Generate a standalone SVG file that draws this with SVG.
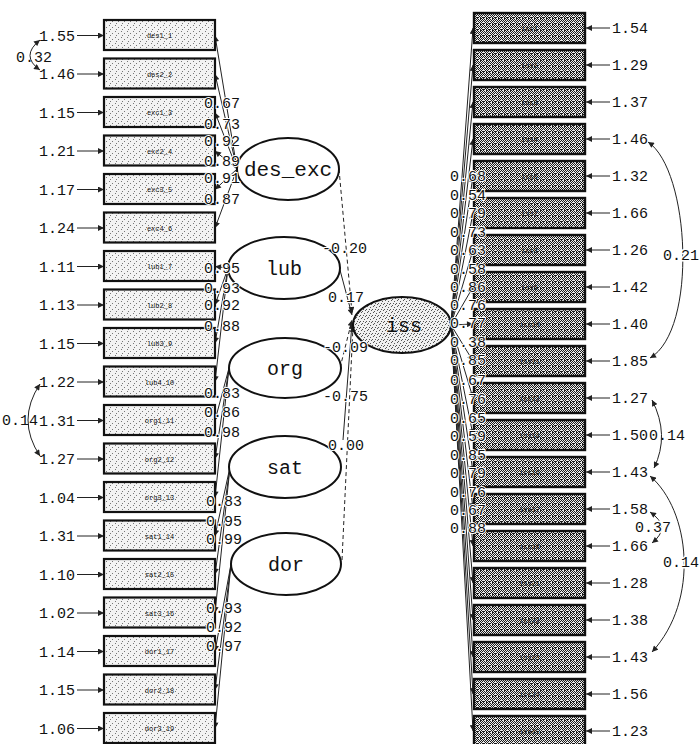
<svg xmlns="http://www.w3.org/2000/svg" width="700" height="744" viewBox="0 0 700 744">
<style>
.num{font-family:"Liberation Mono","DejaVu Sans Mono",monospace;font-size:15px;fill:#111}
.lab{font-family:"Liberation Mono","DejaVu Sans Mono",monospace;font-size:20px;fill:#111;text-anchor:middle}
.sm{font-family:"Liberation Mono","DejaVu Sans Mono",monospace;font-size:7px;fill:#111;text-anchor:middle}
.bl{fill:url(#light);stroke:#111;stroke-width:2.2}
.br{fill:url(#dark);stroke:#111;stroke-width:2.4}
.lv{fill:#fff;stroke:#111;stroke-width:2}
.ar{fill:none;stroke:#222;stroke-width:1;marker-end:url(#ah)}
.cv{fill:none;stroke:#222;stroke-width:1;marker-start:url(#ah2);marker-end:url(#ah)}
.ds{stroke-dasharray:4 3}
.halo{paint-order:stroke;stroke:#fff;stroke-width:3px}
.halo2{paint-order:stroke;stroke:#fff;stroke-width:2px}
</style>
<defs>
<pattern id="light" width="6" height="6" patternUnits="userSpaceOnUse">
<rect width="6" height="6" fill="#f3f3f3"/>
<path d="M1 1h1v1h-1zM4 3h1v1h-1zM2 5h1v1h-1z" fill="#777"/>
</pattern>
<pattern id="dark" width="6" height="6" patternUnits="userSpaceOnUse">
<rect width="6" height="6" fill="#ececec"/>
<path d="M0 0h2v1h-2zM3 0h1v1h-1zM0 1h1v1h-1zM2 1h1v1h-1zM4 1h1v1h-1zM1 2h1v1h-1zM3 2h1v1h-1zM5 2h1v1h-1zM0 3h1v1h-1zM2 3h1v1h-1zM4 3h1v1h-1zM1 4h1v1h-1zM5 4h1v1h-1zM0 5h1v1h-1zM2 5h1v1h-1zM3 5h2v1h-2z" fill="#1a1a1a"/>
</pattern>
<pattern id="mid" width="6" height="6" patternUnits="userSpaceOnUse">
<rect width="6" height="6" fill="#f0f0f0"/>
<path d="M1 0h1v1h-1zM4 1h1v1h-1zM0 3h1v1h-1zM3 3h1v1h-1zM5 4h1v1h-1zM2 5h1v1h-1z" fill="#555"/>
</pattern>
<marker id="ah" viewBox="0 0 10 10" refX="10" refY="5" markerWidth="7" markerHeight="6" orient="auto" markerUnits="userSpaceOnUse">
<path d="M0 0L10 5L0 10z" fill="#222"/>
</marker>
<marker id="ah2" viewBox="0 0 10 10" refX="0" refY="5" markerWidth="7" markerHeight="6" orient="auto" markerUnits="userSpaceOnUse">
<path d="M10 0L0 5L10 10z" fill="#222"/>
</marker>
</defs>

<g id="connectors">
<line class="ar" x1="237" y1="169" x2="215" y2="35.5"/>
<line class="ar" x1="237" y1="169" x2="215" y2="74"/>
<line class="ar" x1="237" y1="169" x2="215" y2="112.5"/>
<line class="ar" x1="237" y1="169" x2="215" y2="151"/>
<line class="ar" x1="237" y1="169" x2="215" y2="189.5"/>
<line class="ar" x1="237" y1="169" x2="215" y2="228"/>
<line class="ar" x1="228" y1="268" x2="215" y2="266.5"/>
<line class="ar" x1="228" y1="268" x2="215" y2="305"/>
<line class="ar" x1="228" y1="268" x2="215" y2="343.5"/>
<line class="ar" x1="228" y1="268" x2="215" y2="382"/>
<line class="ar" x1="229" y1="368" x2="215" y2="420.5"/>
<line class="ar" x1="229" y1="368" x2="215" y2="459"/>
<line class="ar" x1="229" y1="368" x2="215" y2="497.5"/>
<line class="ar" x1="230" y1="467" x2="215" y2="536"/>
<line class="ar" x1="230" y1="467" x2="215" y2="574.5"/>
<line class="ar" x1="230" y1="467" x2="215" y2="613"/>
<line class="ar" x1="231" y1="564" x2="215" y2="651.5"/>
<line class="ar" x1="231" y1="564" x2="215" y2="690"/>
<line class="ar" x1="231" y1="564" x2="215" y2="728.5"/>
<line class="ar ds" x1="339" y1="169" x2="352" y2="313"/>
<line class="ar" x1="340" y1="270" x2="352" y2="315"/>
<line class="ar ds" x1="340" y1="368" x2="352" y2="320"/>
<line class="ar" x1="343" y1="440" x2="352" y2="323"/>
<line class="ar ds" x1="342" y1="560" x2="353" y2="326"/>
<line class="ar" x1="451" y1="325" x2="473" y2="28"/>
<line class="ar" x1="451" y1="325" x2="473" y2="65"/>
<line class="ar" x1="451" y1="325" x2="473" y2="102"/>
<line class="ar" x1="451" y1="325" x2="473" y2="139"/>
<line class="ar" x1="451" y1="325" x2="473" y2="176"/>
<line class="ar" x1="451" y1="325" x2="473" y2="213"/>
<line class="ar" x1="451" y1="325" x2="473" y2="250"/>
<line class="ar" x1="451" y1="325" x2="473" y2="287"/>
<line class="ar" x1="451" y1="325" x2="473" y2="324"/>
<line class="ar" x1="451" y1="325" x2="473" y2="361"/>
<line class="ar" x1="451" y1="325" x2="473" y2="398"/>
<line class="ar" x1="451" y1="325" x2="473" y2="435"/>
<line class="ar" x1="451" y1="325" x2="473" y2="472"/>
<line class="ar" x1="451" y1="325" x2="473" y2="509"/>
<line class="ar" x1="451" y1="325" x2="473" y2="546"/>
<line class="ar" x1="451" y1="325" x2="473" y2="583"/>
<line class="ar" x1="451" y1="325" x2="473" y2="620"/>
<line class="ar" x1="451" y1="325" x2="473" y2="657"/>
<line class="ar" x1="451" y1="325" x2="473" y2="694"/>
<line class="ar" x1="451" y1="325" x2="473" y2="731"/>
<g>
<line class="ar" x1="77" y1="35.5" x2="104" y2="35.5"/>
<line class="ar" x1="77" y1="74" x2="104" y2="74"/>
<line class="ar" x1="77" y1="112.5" x2="104" y2="112.5"/>
<line class="ar" x1="77" y1="151" x2="104" y2="151"/>
<line class="ar" x1="77" y1="189.5" x2="104" y2="189.5"/>
<line class="ar" x1="77" y1="228" x2="104" y2="228"/>
<line class="ar" x1="77" y1="266.5" x2="104" y2="266.5"/>
<line class="ar" x1="77" y1="305" x2="104" y2="305"/>
<line class="ar" x1="77" y1="343.5" x2="104" y2="343.5"/>
<line class="ar" x1="77" y1="382" x2="104" y2="382"/>
<line class="ar" x1="77" y1="420.5" x2="104" y2="420.5"/>
<line class="ar" x1="77" y1="459" x2="104" y2="459"/>
<line class="ar" x1="77" y1="497.5" x2="104" y2="497.5"/>
<line class="ar" x1="77" y1="536" x2="104" y2="536"/>
<line class="ar" x1="77" y1="574.5" x2="104" y2="574.5"/>
<line class="ar" x1="77" y1="613" x2="104" y2="613"/>
<line class="ar" x1="77" y1="651.5" x2="104" y2="651.5"/>
<line class="ar" x1="77" y1="690" x2="104" y2="690"/>
<line class="ar" x1="77" y1="728.5" x2="104" y2="728.5"/>
</g>
<g>
<line class="ar" x1="610" y1="28" x2="586" y2="28"/>
<line class="ar" x1="610" y1="65" x2="586" y2="65"/>
<line class="ar" x1="610" y1="102" x2="586" y2="102"/>
<line class="ar" x1="610" y1="139" x2="586" y2="139"/>
<line class="ar" x1="610" y1="176" x2="586" y2="176"/>
<line class="ar" x1="610" y1="213" x2="586" y2="213"/>
<line class="ar" x1="610" y1="250" x2="586" y2="250"/>
<line class="ar" x1="610" y1="287" x2="586" y2="287"/>
<line class="ar" x1="610" y1="324" x2="586" y2="324"/>
<line class="ar" x1="610" y1="361" x2="586" y2="361"/>
<line class="ar" x1="610" y1="398" x2="586" y2="398"/>
<line class="ar" x1="610" y1="435" x2="586" y2="435"/>
<line class="ar" x1="610" y1="472" x2="586" y2="472"/>
<line class="ar" x1="610" y1="509" x2="586" y2="509"/>
<line class="ar" x1="610" y1="546" x2="586" y2="546"/>
<line class="ar" x1="610" y1="583" x2="586" y2="583"/>
<line class="ar" x1="610" y1="620" x2="586" y2="620"/>
<line class="ar" x1="610" y1="657" x2="586" y2="657"/>
<line class="ar" x1="610" y1="694" x2="586" y2="694"/>
<line class="ar" x1="610" y1="731" x2="586" y2="731"/>
</g>
<path class="cv" d="M40 40 Q20 56 40 70"/>
<path class="cv" d="M40 384 Q16 420 40 456"/>
<path class="cv" d="M648 142 C690 170 698 330 650 358"/>
<path class="cv" d="M652 400 Q670 435 654 468"/>
<path class="cv" d="M650 512 Q672 527 652 543"/>
<path class="cv" d="M650 476 C690 510 700 600 652 652"/>
</g>

<g id="left-indicators">
<g id="des1_1"><rect class="bl" x="104" y="20" width="111" height="30"/><text class="sm" x="159.5" y="38">des1_1</text></g>
<g id="des2_2"><rect class="bl" x="104" y="58.5" width="111" height="30"/><text class="sm" x="159.5" y="76.5">des2_2</text></g>
<g id="exc1_3"><rect class="bl" x="104" y="97" width="111" height="30"/><text class="sm" x="159.5" y="115">exc1_3</text></g>
<g id="exc2_4"><rect class="bl" x="104" y="135.5" width="111" height="30"/><text class="sm" x="159.5" y="153.5">exc2_4</text></g>
<g id="exc3_5"><rect class="bl" x="104" y="174" width="111" height="30"/><text class="sm" x="159.5" y="192">exc3_5</text></g>
<g id="exc4_6"><rect class="bl" x="104" y="212.5" width="111" height="30"/><text class="sm" x="159.5" y="230.5">exc4_6</text></g>
<g id="lub1_7"><rect class="bl" x="104" y="251" width="111" height="30"/><text class="sm" x="159.5" y="269">lub1_7</text></g>
<g id="lub2_8"><rect class="bl" x="104" y="289.5" width="111" height="30"/><text class="sm" x="159.5" y="307.5">lub2_8</text></g>
<g id="lub3_9"><rect class="bl" x="104" y="328" width="111" height="30"/><text class="sm" x="159.5" y="346">lub3_9</text></g>
<g id="lub4_10"><rect class="bl" x="104" y="366.5" width="111" height="30"/><text class="sm" x="159.5" y="384.5">lub4_10</text></g>
<g id="org1_11"><rect class="bl" x="104" y="405" width="111" height="30"/><text class="sm" x="159.5" y="423">org1_11</text></g>
<g id="org2_12"><rect class="bl" x="104" y="443.5" width="111" height="30"/><text class="sm" x="159.5" y="461.5">org2_12</text></g>
<g id="org3_13"><rect class="bl" x="104" y="482" width="111" height="30"/><text class="sm" x="159.5" y="500">org3_13</text></g>
<g id="sat1_14"><rect class="bl" x="104" y="520.5" width="111" height="30"/><text class="sm" x="159.5" y="538.5">sat1_14</text></g>
<g id="sat2_15"><rect class="bl" x="104" y="559" width="111" height="30"/><text class="sm" x="159.5" y="577">sat2_15</text></g>
<g id="sat3_16"><rect class="bl" x="104" y="597.5" width="111" height="30"/><text class="sm" x="159.5" y="615.5">sat3_16</text></g>
<g id="dor1_17"><rect class="bl" x="104" y="636" width="111" height="30"/><text class="sm" x="159.5" y="654">dor1_17</text></g>
<g id="dor2_18"><rect class="bl" x="104" y="674.5" width="111" height="30"/><text class="sm" x="159.5" y="692.5">dor2_18</text></g>
<g id="dor3_19"><rect class="bl" x="104" y="713" width="111" height="30"/><text class="sm" x="159.5" y="731">dor3_19</text></g>
</g>

<g id="right-indicators">
<g id="iss1"><rect class="br" x="474" y="13" width="111" height="30"/><text class="sm" x="529.5" y="31">iss1</text></g>
<g id="iss2"><rect class="br" x="474" y="50" width="111" height="30"/><text class="sm" x="529.5" y="68">iss2</text></g>
<g id="iss3"><rect class="br" x="474" y="87" width="111" height="30"/><text class="sm" x="529.5" y="105">iss3</text></g>
<g id="iss4"><rect class="br" x="474" y="124" width="111" height="30"/><text class="sm" x="529.5" y="142">iss4</text></g>
<g id="iss6"><rect class="br" x="474" y="161" width="111" height="30"/><text class="sm" x="529.5" y="179">iss6</text></g>
<g id="iss7"><rect class="br" x="474" y="198" width="111" height="30"/><text class="sm" x="529.5" y="216">iss7</text></g>
<g id="iss8"><rect class="br" x="474" y="235" width="111" height="30"/><text class="sm" x="529.5" y="253">iss8</text></g>
<g id="iss9"><rect class="br" x="474" y="272" width="111" height="30"/><text class="sm" x="529.5" y="290">iss9</text></g>
<g id="iss10"><rect class="br" x="474" y="309" width="111" height="30"/><text class="sm" x="529.5" y="327">iss10</text></g>
<g id="iss11"><rect class="br" x="474" y="346" width="111" height="30"/><text class="sm" x="529.5" y="364">iss11</text></g>
<g id="iss12"><rect class="br" x="474" y="383" width="111" height="30"/><text class="sm" x="529.5" y="401">iss12</text></g>
<g id="iss14"><rect class="br" x="474" y="420" width="111" height="30"/><text class="sm" x="529.5" y="438">iss14</text></g>
<g id="iss16"><rect class="br" x="474" y="457" width="111" height="30"/><text class="sm" x="529.5" y="475">iss16</text></g>
<g id="iss17"><rect class="br" x="474" y="494" width="111" height="30"/><text class="sm" x="529.5" y="512">iss17</text></g>
<g id="iss19"><rect class="br" x="474" y="531" width="111" height="30"/><text class="sm" x="529.5" y="549">iss19</text></g>
<g id="iss21"><rect class="br" x="474" y="568" width="111" height="30"/><text class="sm" x="529.5" y="586">iss21</text></g>
<g id="iss22"><rect class="br" x="474" y="605" width="111" height="30"/><text class="sm" x="529.5" y="623">iss22</text></g>
<g id="iss23"><rect class="br" x="474" y="642" width="111" height="30"/><text class="sm" x="529.5" y="660">iss23</text></g>
<g id="iss24"><rect class="br" x="474" y="679" width="111" height="30"/><text class="sm" x="529.5" y="697">iss24</text></g>
<g id="iss25"><rect class="br" x="474" y="716" width="111" height="30"/><text class="sm" x="529.5" y="734">iss25</text></g>
</g>

<g id="latents">
<g id="des_exc"><ellipse class="lv" cx="288" cy="169" rx="51" ry="31"/><text class="lab" x="288" y="176" style="font-size:21px">des_exc</text></g>
<g id="lub"><ellipse class="lv" cx="284" cy="268" rx="56" ry="31"/><text class="lab" x="284" y="275">lub</text></g>
<g id="org"><ellipse class="lv" cx="285" cy="368" rx="56" ry="30"/><text class="lab" x="285" y="375">org</text></g>
<g id="sat"><ellipse class="lv" cx="285" cy="467" rx="56" ry="31"/><text class="lab" x="285" y="474">sat</text></g>
<g id="dor"><ellipse class="lv" cx="286" cy="564" rx="55" ry="31"/><text class="lab" x="286" y="571">dor</text></g>
<g id="iss"><ellipse cx="402" cy="325" rx="49" ry="28" fill="url(#mid)" stroke="#111" stroke-width="2"/><text class="lab" x="404" y="332">iss</text></g>
</g>

<g id="labels">
<g class="num" text-anchor="end">
<text x="75" y="40.5">1.55</text>
<text x="75" y="79">1.46</text>
<text x="75" y="117.5">1.15</text>
<text x="75" y="156">1.21</text>
<text x="75" y="194.5">1.17</text>
<text x="75" y="233">1.24</text>
<text x="75" y="271.5">1.11</text>
<text x="75" y="310">1.13</text>
<text x="75" y="348.5">1.15</text>
<text x="75" y="387">1.22</text>
<text x="75" y="425.5">1.31</text>
<text x="75" y="464">1.27</text>
<text x="75" y="502.5">1.04</text>
<text x="75" y="541">1.31</text>
<text x="75" y="579.5">1.10</text>
<text x="75" y="618">1.02</text>
<text x="75" y="656.5">1.14</text>
<text x="75" y="695">1.15</text>
<text x="75" y="733.5">1.06</text>
</g>
<text class="num" x="16" y="62">0.32</text>
<text class="num" x="2" y="425">0.14</text>
<g class="num halo2">
<text x="204" y="108">0.67</text>
<text x="204" y="129">0.73</text>
<text x="204" y="146">0.92</text>
<text x="204" y="166">0.89</text>
<text x="204" y="183">0.91</text>
<text x="204" y="204">0.87</text>
<text x="204" y="273">0.95</text>
<text x="204" y="293">0.93</text>
<text x="204" y="310">0.92</text>
<text x="204" y="331">0.88</text>
<text x="204" y="398">0.83</text>
<text x="204" y="417">0.86</text>
<text x="204" y="437">0.98</text>
<text x="206" y="506">0.83</text>
<text x="206" y="526">0.95</text>
<text x="206" y="544">0.99</text>
<text x="206" y="613">0.93</text>
<text x="206" y="632">0.92</text>
<text x="206" y="651">0.97</text>
</g>
<g class="num halo2">
<text x="322" y="253">-0.20</text>
<text x="328" y="302">0.17</text>
<text x="323" y="352">-0.09</text>
<text x="323" y="401">-0.75</text>
<text x="328" y="450">0.00</text>
</g>
<g class="num halo2">
<text x="450" y="181">0.68</text>
<text x="450" y="200">0.54</text>
<text x="450" y="218">0.79</text>
<text x="450" y="237">0.73</text>
<text x="450" y="255">0.63</text>
<text x="450" y="274">0.58</text>
<text x="450" y="292">0.86</text>
<text x="450" y="310">0.76</text>
<text x="450" y="328">0.77</text>
<text x="450" y="347">0.38</text>
<text x="450" y="365">0.85</text>
<text x="450" y="385">0.67</text>
<text x="450" y="404">0.76</text>
<text x="450" y="423">0.65</text>
<text x="450" y="441">0.59</text>
<text x="450" y="460">0.85</text>
<text x="450" y="478">0.79</text>
<text x="450" y="497">0.76</text>
<text x="450" y="515">0.67</text>
<text x="450" y="533">0.88</text>
</g>
<g class="num">
<text x="612" y="33">1.54</text>
<text x="612" y="70">1.29</text>
<text x="612" y="107">1.37</text>
<text x="612" y="144">1.46</text>
<text x="612" y="181">1.32</text>
<text x="612" y="218">1.66</text>
<text x="612" y="255">1.26</text>
<text x="612" y="292">1.42</text>
<text x="612" y="329">1.40</text>
<text x="612" y="366">1.85</text>
<text x="612" y="403">1.27</text>
<text x="612" y="440">1.50</text>
<text x="612" y="477">1.43</text>
<text x="612" y="514">1.58</text>
<text x="612" y="551">1.66</text>
<text x="612" y="588">1.28</text>
<text x="612" y="625">1.38</text>
<text x="612" y="662">1.43</text>
<text x="612" y="699">1.56</text>
<text x="612" y="736">1.23</text>
</g>
<text class="num halo" x="663" y="260">0.21</text>
<text class="num" x="649" y="440">0.14</text>
<text class="num halo" x="635" y="532">0.37</text>
<text class="num halo" x="663" y="567">0.14</text>
</g>
</svg>
